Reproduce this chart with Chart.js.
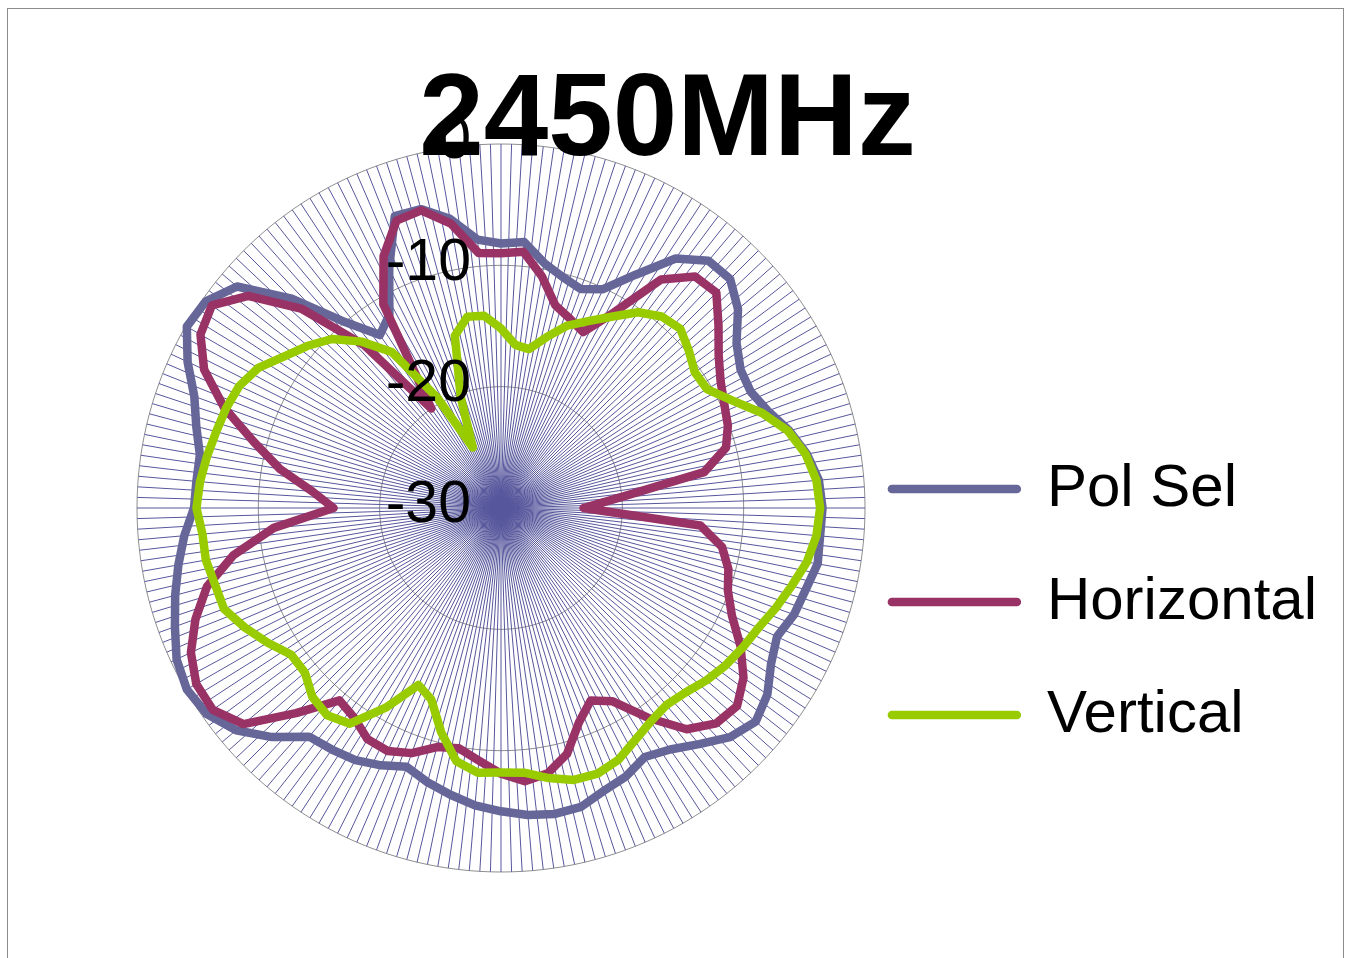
<!DOCTYPE html>
<html>
<head>
<meta charset="utf-8">
<title>2450MHz</title>
<script src="https://cdn.jsdelivr.net/npm/chart.js@4.4.1/dist/chart.umd.min.js"></script>
<style>
  html, body { margin: 0; padding: 0; background: #fff; }
  body { position: relative; width: 1349px; height: 958px; overflow: hidden; }
  #frame { position: absolute; left: 7px; top: 8px; width: 1335px; height: 1000px; border: 1px solid #8c8c8c; }
  #chart { position: absolute; left: 0; top: 0; }
</style>
</head>
<body>
<div id="frame"></div>
<canvas id="chart" width="1349" height="958"></canvas>
<script>
// measured angles (deg, clockwise from top)
const angles = [
  0, 5, 10, 15, 20, 25, 30, 35, 40, 45, 50, 55,
  60, 65, 70, 75, 80, 85, 90, 95, 100, 105, 110, 115,
  120, 125, 130, 135, 140, 145, 150, 155, 160, 165, 170, 175,
  180, 185, 190, 195, 200, 205, 210, 215, 220, 225, 230, 235,
  240, 245, 250, 255, 260, 265, 270, 275, 280, 285, 290, 295,
  300, 305, 310, 315, 320, 325, 330, 335, 340, 345, 350, 355
];

// dB values
const polSel = [
  -8.2, -8.0, -9.5, -10.3, -10.8, -10.1, -7.8, -4.9, -3.4, -3.3, -4.5, -6.3,
  -7.2, -7.3, -6.6, -5.4, -4.4, -3.7, -3.5, -3.6, -3.5, -4.0, -4.3, -4.9,
  -4.3, -3.2, -2.6, -3.3, -4.6, -5.7, -6.3, -5.6, -5.2, -4.5, -4.4, -4.6,
  -5.0, -5.4, -6.0, -6.6, -7.3, -6.6, -6.0, -5.7, -5.4, -3.3, -1.5, -0.4,
  -0.1, -0.5, -1.4, -2.2, -3.0, -3.8, -4.7, -4.8, -4.8, -4.0, -3.1, -1.5,
  -0.1, -0.3, -1.6, -5.6, -10.0, -12.6, -11.6, -8.2, -4.4, -4.5, -5.8, -7.8
];
const horizontal = [
  -9.0, -8.8, -10.6, -12.7, -13.4, -14.0, -11.4, -7.0, -5.1, -4.9, -6.6, -8.1,
  -9.1, -9.7, -10.1, -10.8, -13.0, -20.2, -23.2, -13.5, -11.5, -10.6, -10.1, -9.0,
  -7.2, -5.6, -4.6, -4.9, -6.2, -8.9, -11.6, -12.5, -11.2, -9.0, -7.8, -7.4,
  -8.1, -9.1, -9.9, -9.6, -8.5, -7.9, -8.0, -8.9, -9.3, -6.1, -2.3, -1.0,
  -1.0, -1.8, -3.2, -4.9, -7.6, -11.2, -16.2, -14.4, -11.5, -8.9, -5.7, -3.0,
  -1.4, -0.9, -2.8, -6.8, -12.5, -20.0, -10.6, -7.1, -4.8, -4.6, -6.2, -8.9
];
const vertical = [
  -15.2, -16.5, -16.7, -15.4, -14.0, -13.0, -11.8, -10.3, -9.4, -9.1, -9.8, -10.5,
  -10.4, -9.0, -7.1, -5.5, -4.5, -3.9, -3.7, -3.9, -4.4, -5.2, -5.9, -6.6,
  -7.0, -7.4, -7.9, -8.5, -8.8, -8.5, -7.9, -7.1, -6.7, -6.8, -7.4, -8.1,
  -8.2, -8.1, -8.8, -10.9, -13.2, -13.9, -11.0, -8.3, -7.7, -8.0, -8.9, -8.9,
  -7.8, -6.7, -5.7, -5.6, -5.3, -5.3, -4.9, -5.1, -5.4, -5.7, -5.9, -6.2,
  -6.9, -8.2, -9.2, -10.3, -12.1, -14.3, -19.5, -24.5, -20.3, -15.3, -14.0, -14.1
];

const seriesNames = ['Pol Sel', 'Horizontal', 'Vertical'];
const seriesColors = ['#666699', '#993366', '#99CC00'];

const scaleMin = -30;
const scaleMax = 0;
const scaleStep = 10;

// the chart draws many more spokes than measured points
const SPOKES = 216;
const spokeLabels = Array.from({ length: SPOKES }, () => '');

function toSpokes(values) {
  const out = new Array(SPOKES).fill(null);
  angles.forEach((a, k) => { out[Math.round(a * SPOKES / 360)] = values[k]; });
  return out;
}

const FONT = "'Liberation Sans', Arial, sans-serif";
const LINE_W = 8.5;

// tick values drawn on top of the curves, left of the vertical spoke
const tickLabels = {
  id: 'tickLabels',
  afterDatasetsDraw(chart) {
    const s = chart.scales.r;
    const ctx = chart.ctx;
    ctx.save();
    ctx.font = '59px ' + FONT;
    ctx.fillStyle = '#000';
    ctx.textAlign = 'right';
    ctx.textBaseline = 'middle';
    s.ticks.forEach(t => {
      const y = s.yCenter - s.getDistanceFromCenterForValue(t.value);
      ctx.fillText(String(t.value), s.xCenter - 30, y - 2);
    });
    ctx.restore();
  }
};

const allSeries = [polSel, horizontal, vertical];
const datasets = allSeries.map((vals, i) => ({
  label: seriesNames[i],
  data: toSpokes(vals),
  borderColor: seriesColors[i],
  backgroundColor: seriesColors[i],
  borderWidth: LINE_W,
  pointBorderWidth: LINE_W,
  borderCapStyle: 'round',
  borderJoinStyle: 'round',
  pointRadius: 0,
  pointHoverRadius: 0,
  tension: 0,
  fill: false,
  spanGaps: true,
  order: allSeries.length - i   // later series drawn on top
}));

new Chart(document.getElementById('chart'), {
  type: 'radar',
  data: { labels: spokeLabels, datasets: datasets },
  options: {
    responsive: false,
    animation: false,
    events: [],
    layout: { padding: { left: 137, right: 22, top: 0, bottom: 85 } },
    scales: {
      r: {
        min: scaleMin,
        max: scaleMax,
        ticks: { stepSize: scaleStep, display: false },
        grid: { color: '#8f8f8f', lineWidth: 1 },
        angleLines: { color: '#56569c', lineWidth: 1 },
        pointLabels: { display: false }
      }
    },
    plugins: {
      title: {
        display: true,
        // trailing spaces pull the centred title left, over the plot like the original
        text: '2450MHz    ',
        color: '#000',
        font: { family: FONT, size: 116, weight: 'bold', lineHeight: 1 },
        padding: { top: 65, bottom: -38 }
      },
      legend: {
        position: 'right',
        align: 'center',
        title: { display: true, text: ' ', padding: { top: 347, bottom: 0 }, font: { size: 10, lineHeight: 1.2 } },
        labels: {
          color: '#000',
          font: { family: FONT, size: 60, lineHeight: 88 / 60 },
          usePointStyle: true,
          pointStyle: 'line',
          pointStyleWidth: 125,
          padding: 25,
          sort: (a, b) => a.datasetIndex - b.datasetIndex,
          generateLabels(chart) {
            const items = Chart.defaults.plugins.legend.labels.generateLabels(chart);
            items.forEach(it => {
              it.text = [it.text];
              it.lineCap = 'round';
              it.lineJoin = 'round';
              it.lineWidth = LINE_W;
            });
            return items;
          }
        }
      },
      tooltip: { enabled: false }
    }
  },
  plugins: [tickLabels]
});
</script>
</body>
</html>
